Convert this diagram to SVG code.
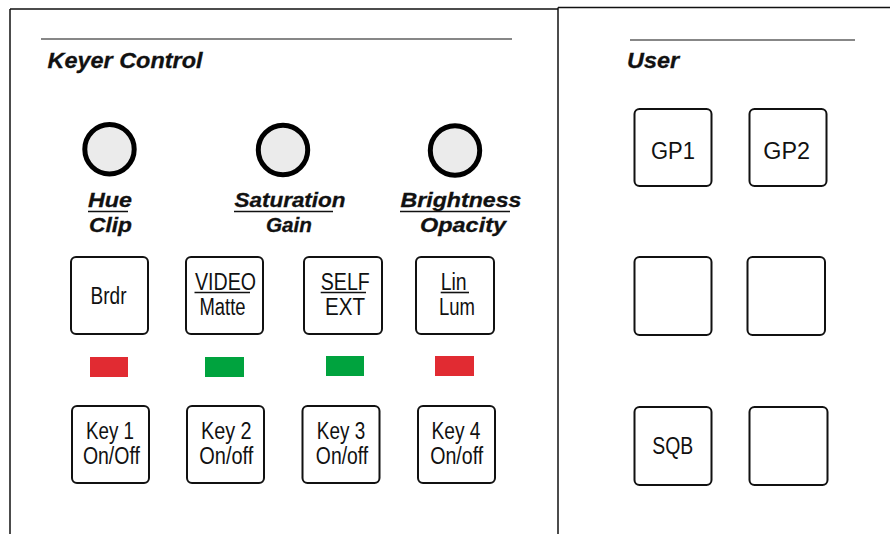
<svg xmlns="http://www.w3.org/2000/svg" width="890" height="534" viewBox="0 0 890 534">
  <style>
    .frame { stroke: #111; stroke-width: 1.5; fill: none; }
    .rule { stroke: #111; stroke-width: 1.2; fill: none; }
    .ul { stroke: #111; stroke-width: 1.6; fill: none; }
    .btn { fill: #ffffff; stroke: #111; stroke-width: 2; }
    .knob { fill: #ebebeb; stroke: #000; stroke-width: 5; }
    .head { font-family: "Liberation Sans", Arial, sans-serif; font-weight: bold; font-style: italic; font-size: 22px; fill: #111; stroke: #111; stroke-width: 0.3; }
    .lbl { font-family: "Liberation Sans", Arial, sans-serif; font-weight: bold; font-style: italic; font-size: 21px; fill: #111; stroke: #111; stroke-width: 0.3; }
    .bt { font-family: "Liberation Sans", Arial, sans-serif; font-size: 23px; fill: #111; text-anchor: middle; }
    .red { fill: #e12b32; }
    .grn { fill: #00a33e; }
  </style>

  <!-- panel frame -->
  <g id="frame">
    <line class="frame" x1="10" y1="9" x2="10" y2="534"/>
    <line class="frame" x1="10" y1="9" x2="558" y2="9"/>
    <line class="frame" x1="558" y1="7.5" x2="890" y2="7.5"/>
    <line class="frame" x1="558" y1="7.5" x2="558" y2="534"/>
  </g>

  <!-- section headings -->
  <g id="keyer-heading">
    <line class="rule" x1="41" y1="39" x2="512" y2="39"/>
    <text class="head" x="47.5" y="68" textLength="155" lengthAdjust="spacingAndGlyphs">Keyer Control</text>
  </g>
  <g id="user-heading">
    <line class="rule" x1="630" y1="40" x2="855" y2="40"/>
    <text class="head" x="627" y="68" textLength="52" lengthAdjust="spacingAndGlyphs">User</text>
  </g>

  <!-- knobs -->
  <g id="knob-hue">
    <circle class="knob" cx="109.5" cy="149.2" r="24.7"/>
    <text class="lbl" x="88" y="207" textLength="44" lengthAdjust="spacingAndGlyphs">Hue</text>
    <line class="ul" x1="88" y1="211.5" x2="128" y2="211.5"/>
    <text class="lbl" x="89" y="232" textLength="43" lengthAdjust="spacingAndGlyphs">Clip</text>
  </g>
  <g id="knob-saturation">
    <circle class="knob" cx="283" cy="150" r="24.7"/>
    <text class="lbl" x="234.5" y="207" textLength="111" lengthAdjust="spacingAndGlyphs">Saturation</text>
    <line class="ul" x1="234" y1="211.5" x2="333" y2="211.5"/>
    <text class="lbl" x="266" y="232" textLength="46" lengthAdjust="spacingAndGlyphs">Gain</text>
  </g>
  <g id="knob-brightness">
    <circle class="knob" cx="455" cy="150.5" r="24.7"/>
    <text class="lbl" x="400.5" y="207" textLength="121" lengthAdjust="spacingAndGlyphs">Brightness</text>
    <line class="ul" x1="400" y1="211.5" x2="510" y2="211.5"/>
    <text class="lbl" x="420" y="232" textLength="86" lengthAdjust="spacingAndGlyphs">Opacity</text>
  </g>

  <!-- mode buttons -->
  <g id="btn-brdr">
    <rect class="btn" x="71" y="257" width="77" height="77" rx="5"/>
    <text class="bt" x="108.5" y="304" textLength="36" lengthAdjust="spacingAndGlyphs">Brdr</text>
  </g>
  <g id="btn-video-matte">
    <rect class="btn" x="186" y="257" width="77" height="77" rx="5"/>
    <text class="bt" x="225.5" y="290" textLength="61" lengthAdjust="spacingAndGlyphs">VIDEO</text>
    <line class="ul" x1="194.5" y1="292.5" x2="250" y2="292.5"/>
    <text class="bt" x="222.5" y="314.5" textLength="46" lengthAdjust="spacingAndGlyphs">Matte</text>
  </g>
  <g id="btn-self-ext">
    <rect class="btn" x="304" y="257" width="78" height="77" rx="5"/>
    <text class="bt" x="345.3" y="290" textLength="49" lengthAdjust="spacingAndGlyphs">SELF</text>
    <line class="ul" x1="320.7" y1="292.5" x2="366" y2="292.5"/>
    <text class="bt" x="345" y="315" textLength="40" lengthAdjust="spacingAndGlyphs">EXT</text>
  </g>
  <g id="btn-lin-lum">
    <rect class="btn" x="416" y="257" width="78" height="77" rx="5"/>
    <text class="bt" x="453.7" y="290" textLength="26" lengthAdjust="spacingAndGlyphs">Lin</text>
    <line class="ul" x1="440.7" y1="292.5" x2="469" y2="292.5"/>
    <text class="bt" x="457" y="315" textLength="36" lengthAdjust="spacingAndGlyphs">Lum</text>
  </g>

  <!-- tally lamps -->
  <g id="lamps">
    <rect class="red" x="90" y="357" width="38" height="20"/>
    <rect class="grn" x="205" y="357" width="39" height="20"/>
    <rect class="grn" x="326" y="356" width="38" height="20"/>
    <rect class="red" x="435" y="356" width="39" height="20"/>
  </g>

  <!-- key on/off buttons -->
  <g id="btn-key1">
    <rect class="btn" x="72" y="406" width="77" height="77" rx="5"/>
    <text class="bt" x="110" y="438.5" textLength="48" lengthAdjust="spacingAndGlyphs">Key 1</text>
    <text class="bt" x="111.4" y="464" textLength="57" lengthAdjust="spacingAndGlyphs">On/Off</text>
  </g>
  <g id="btn-key2">
    <rect class="btn" x="187" y="406" width="77" height="77" rx="5"/>
    <text class="bt" x="226.3" y="438.5" textLength="50.7" lengthAdjust="spacingAndGlyphs">Key 2</text>
    <text class="bt" x="226.3" y="464" textLength="54" lengthAdjust="spacingAndGlyphs">On/off</text>
  </g>
  <g id="btn-key3">
    <rect class="btn" x="302.5" y="406" width="77" height="77" rx="5"/>
    <text class="bt" x="341" y="438.5" textLength="48.3" lengthAdjust="spacingAndGlyphs">Key 3</text>
    <text class="bt" x="342" y="464" textLength="52.3" lengthAdjust="spacingAndGlyphs">On/off</text>
  </g>
  <g id="btn-key4">
    <rect class="btn" x="418" y="406" width="77" height="77" rx="5"/>
    <text class="bt" x="456" y="438.5" textLength="49" lengthAdjust="spacingAndGlyphs">Key 4</text>
    <text class="bt" x="456.7" y="464" textLength="53" lengthAdjust="spacingAndGlyphs">On/off</text>
  </g>

  <!-- user buttons -->
  <g id="btn-gp1">
    <rect class="btn" x="634.5" y="109" width="77" height="77" rx="5"/>
    <text class="bt" x="673" y="158.5" textLength="44" lengthAdjust="spacingAndGlyphs">GP1</text>
  </g>
  <g id="btn-gp2">
    <rect class="btn" x="749.5" y="109" width="77" height="77" rx="5"/>
    <text class="bt" x="786.7" y="158.5" textLength="46.7" lengthAdjust="spacingAndGlyphs">GP2</text>
  </g>
  <g id="btn-user3">
    <rect class="btn" x="634.5" y="257" width="77" height="78" rx="5"/>
  </g>
  <g id="btn-user4">
    <rect class="btn" x="747.5" y="257" width="77.5" height="78" rx="5"/>
  </g>
  <g id="btn-sqb">
    <rect class="btn" x="634.5" y="407" width="77" height="78" rx="5"/>
    <text class="bt" x="672.8" y="453.5" textLength="41" lengthAdjust="spacingAndGlyphs">SQB</text>
  </g>
  <g id="btn-user6">
    <rect class="btn" x="749.5" y="407" width="78" height="78" rx="5"/>
  </g>

  <g id="connectors"/>
</svg>
